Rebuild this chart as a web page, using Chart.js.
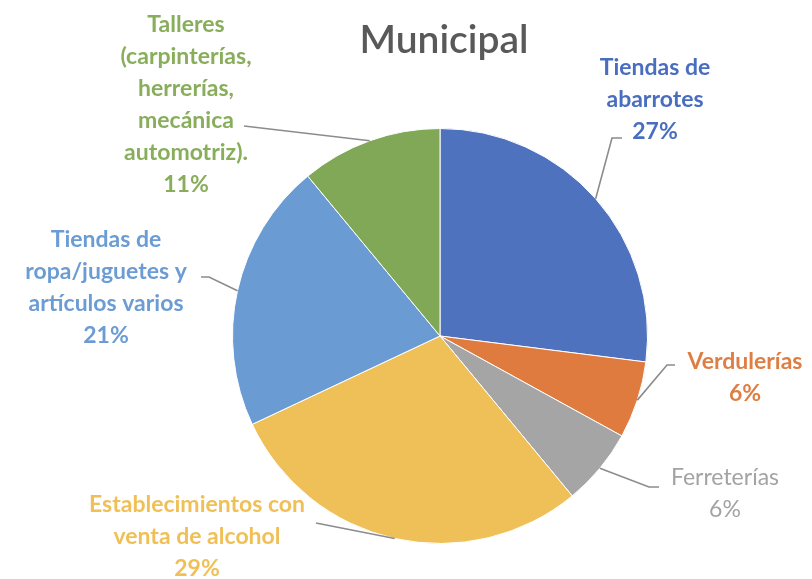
<!DOCTYPE html>
<html>
<head>
<meta charset="utf-8">
<script src="https://cdn.jsdelivr.net/npm/chart.js@4.4.0/dist/chart.umd.min.js"></script>
<style>
  html, body { margin: 0; padding: 0; background: #fff; }
  #wrap { position: relative; width: 812px; height: 579px; }
</style>
</head>
<body>
<div id="wrap"><canvas id="pieChart" width="812" height="579"></canvas></div>
<script>
// Chart data
const categories = [
  ['Tiendas de', 'abarrotes'],
  ['Verdulerías'],
  ['Ferreterías'],
  ['Establecimientos con', 'venta de alcohol'],
  ['Tiendas de', 'ropa/juguetes y', 'artículos varios'],
  ['Talleres', '(carpinterías,', 'herrerías,', 'mecánica', 'automotriz).']
];
const values = [27, 6, 6, 29, 21, 11];
const sliceColors = ['#4E72BE', '#E07B3F', '#A5A5A5', '#F0C058', '#6A9BD3', '#80A856'];
const textColors = ['#4A6EBF', '#DF7E42', '#A3A3A3', '#F0BF55', '#6C9CD4', '#88AE5C'];
const chartTitle = 'Municipal';

// label layout: centre x of text, y of first line, leader anchor (x, y) and elbow length
const labelLayout = [
  { x: 655, y: 68, lx: 622, ly: 138, elbow: -10, bold: true },
  { x: 745, y: 362, lx: 675, ly: 365, elbow: -8, bold: true },
  { x: 725, y: 478, lx: 659, ly: 487, elbow: -10, bold: false },
  { x: 197, y: 505, lx: 316, ly: 523, elbow: 0, bold: true },
  { x: 106, y: 240, lx: 201, ly: 277, elbow: 8, bold: true },
  { x: 186, y: 25, lx: 244, ly: 126, elbow: 0, bold: true }
];

const lineHeight = 32;

const outsideLabels = {
  id: 'outsideLabels',
  afterDraw(chart) {
    const ctx = chart.ctx;
    const meta = chart.getDatasetMeta(0);
    const total = values.reduce((a, b) => a + b, 0);
    ctx.save();
    // title
    ctx.font = '600 39px Lato, "Open Sans", sans-serif';
    ctx.fillStyle = '#595959';
    ctx.textAlign = 'center';
    ctx.textBaseline = 'middle';
    ctx.fillText(chartTitle, 444, 40);

    meta.data.forEach((arc, i) => {
      const p = arc.getProps(['x', 'y', 'startAngle', 'endAngle', 'outerRadius'], true);
      const mid = (p.startAngle + p.endAngle) / 2;
      const ex = p.x + Math.cos(mid) * p.outerRadius;
      const ey = p.y + Math.sin(mid) * p.outerRadius;
      const lay = labelLayout[i];

      // leader line
      ctx.strokeStyle = '#8C8C8C';
      ctx.lineWidth = 1.6;
      ctx.beginPath();
      ctx.moveTo(lay.lx, lay.ly);
      if (lay.elbow) ctx.lineTo(lay.lx + lay.elbow, lay.ly);
      ctx.lineTo(ex, ey);
      ctx.stroke();

      // text
      const lines = categories[i].concat([Math.round(values[i] / total * 100) + '%']);
      ctx.fillStyle = textColors[i];
      ctx.font = (lay.bold ? 'bold ' : '') + '23px Lato, "Open Sans", sans-serif';
      ctx.textAlign = 'center';
      ctx.textBaseline = 'middle';
      lines.forEach((t, k) => ctx.fillText(t, lay.x, lay.y + k * lineHeight));
    });
    ctx.restore();
  }
};

const ctx = document.getElementById('pieChart').getContext('2d');
const pieChart = new Chart(ctx, {
  type: 'pie',
  data: {
    labels: categories.map(c => c.join(' ')),
    datasets: [{
      data: values,
      backgroundColor: sliceColors,
      borderColor: '#ffffff',
      borderWidth: 1
    }]
  },
  options: {
    responsive: false,
    animation: false,
    layout: {
      padding: { top: 128, bottom: 35, left: 232, right: 164 }
    },
    plugins: {
      legend: { display: false },
      tooltip: { enabled: false }
    }
  },
  plugins: [outsideLabels]
});
</script>
</body>
</html>
